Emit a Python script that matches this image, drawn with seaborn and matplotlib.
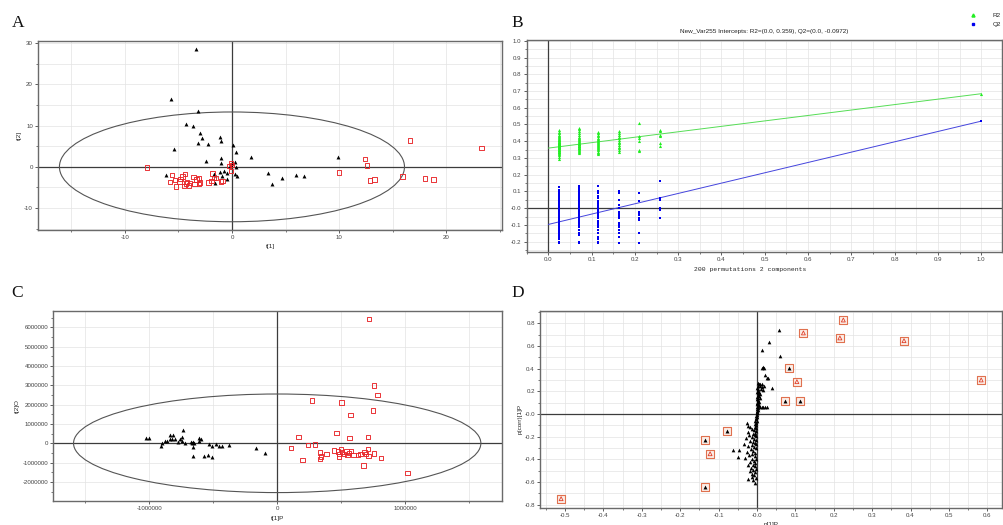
import numpy as np
import pandas as pd
import matplotlib
matplotlib.use("Agg")
import matplotlib.pyplot as plt
import seaborn as sns
from matplotlib.patches import Ellipse
from matplotlib.ticker import MultipleLocator, FuncFormatter
from matplotlib.lines import Line2D

# ---------------- data ----------------
# Panel A (score plot t[1] vs t[2])
a_black_x = [-3.4, -5.7, -3.2, -4.3, -3.6, -3.0, -2.8, -3.2, -2.2, -1.1, -1.0, -5.4, 0.1, 0.4, -1.0, -1.0, -2.4, 0.3, 0.0, -0.1,
             0.4, -6.2, -1.6, -1.1, -0.7, -0.5, -0.9, -1.6, -0.5, 0.3, 0.5, 1.8, 3.4, 3.7, 4.7, 6.0, 6.7, 9.9, -1.7, -0.2]
a_black_y = [28.5, 16.5, 13.5, 10.4, 9.8, 8.3, 6.9, 5.7, 5.6, 7.2, 6.2, 4.4, 5.3, 3.5, 2.1, 1.0, 1.4, 1.1, 0.9, 0.5,
             0.0, -1.9, -1.9, -1.3, -0.9, -1.5, -2.1, -3.8, -3.0, -1.8, -2.3, 2.3, -1.5, -4.2, -2.8, -1.9, -2.2, 2.5, -1.7, 0.3]
a_red_x = [-7.9, -5.6, -5.8, -5.3, -5.2, -4.9, -4.8, -4.6, -4.4, -4.5, -4.3, -4.2, -3.9, -3.6, -3.5, -3.3, -3.1, -3.1, -3.0, -4.0,
           -2.2, -1.8, -1.7, -1.5, -1.9, -1.0, -0.9, -0.1, -0.25, -0.1, 0.0, 12.4, 12.6, 10.0, 12.9, 13.3, 15.9, 16.6, 18.0, 18.8, 23.3]
a_red_y = [-0.2, -2.0, -3.6, -3.2, -4.8, -3.5, -3.0, -2.3, -1.7, -4.6, -4.0, -3.6, -3.9, -2.5, -4.1, -3.1, -2.8, -4.1, -3.8, -4.5,
           -3.8, -1.6, -2.7, -2.7, -3.4, -3.5, -3.4, -1.0, 0.2, 0.9, 0.5, 1.9, 0.3, -1.4, -3.3, -3.1, -2.3, 6.4, -2.8, -3.1, 4.5]
a_ellipse = (16.1, 13.3)

# Panel B (permutation test)
perm_x = [0.025, 0.07, 0.115, 0.163, 0.21, 0.257]
r2_c1 = [0.293, 0.305, 0.315, 0.322, 0.328, 0.333, 0.338, 0.342, 0.346, 0.350, 0.354, 0.357, 0.360, 0.363, 0.366, 0.369, 0.372, 0.375,
         0.378, 0.381, 0.384, 0.387, 0.390, 0.393, 0.397, 0.401, 0.405, 0.409, 0.413, 0.418, 0.423, 0.430, 0.438, 0.447, 0.458, 0.470]
r2_c2 = [0.330, 0.336, 0.342, 0.348, 0.353, 0.358, 0.362, 0.366, 0.370, 0.374, 0.378, 0.382, 0.386, 0.390, 0.395, 0.400, 0.406, 0.412,
         0.420, 0.428, 0.438, 0.448, 0.460, 0.472, 0.480]
r2_c3 = [0.322, 0.330, 0.338, 0.345, 0.352, 0.358, 0.364, 0.370, 0.376, 0.382, 0.388, 0.394, 0.400, 0.407, 0.414, 0.422, 0.430, 0.440,
         0.450, 0.458]
r2_c4 = [0.335, 0.348, 0.358, 0.368, 0.378, 0.388, 0.398, 0.408, 0.418, 0.428, 0.440, 0.452, 0.460]
r2_c5 = [0.340, 0.350, 0.400, 0.420, 0.430, 0.510]
r2_c6 = [0.370, 0.390, 0.430, 0.440, 0.460, 0.470]
q2_c1 = [-0.210, -0.205, -0.185, -0.175, -0.165, -0.155, -0.145, -0.135, -0.125, -0.118, -0.110, -0.102, -0.095, -0.088, -0.080,
         -0.073, -0.066, -0.059, -0.052, -0.045, -0.038, -0.031, -0.024, -0.017, -0.010, -0.003, 0.004, 0.011, 0.018, 0.025, 0.032,
         0.040, 0.048, 0.056, 0.064, 0.072, 0.080, 0.088, 0.095, 0.110, 0.125]
q2_c2 = [-0.210, -0.200, -0.160, -0.150, -0.130, -0.110, -0.100, -0.090, -0.080, -0.070, -0.060, -0.050, -0.040, -0.030, -0.020,
         -0.010, 0.000, 0.010, 0.020, 0.030, 0.040, 0.050, 0.060, 0.070, 0.080, 0.090, 0.100, 0.110, 0.120, 0.130]
q2_c3 = [-0.210, -0.200, -0.185, -0.170, -0.150, -0.130, -0.115, -0.100, -0.090, -0.075, -0.060, -0.050, -0.040, -0.030, -0.020,
         -0.010, 0.000, 0.010, 0.020, 0.030, 0.045, 0.060, 0.075, 0.090, 0.100, 0.135]
q2_c4 = [-0.210, -0.170, -0.150, -0.130, -0.110, -0.100, -0.090, -0.060, -0.050, -0.040, -0.030, -0.020, 0.000, 0.020, 0.050, 0.090,
         0.095, 0.100]
q2_c5 = [-0.210, -0.150, -0.070, -0.060, -0.040, -0.030, -0.020, 0.040, 0.090]
q2_c6 = [-0.060, -0.010, 0.000, 0.050, 0.060, 0.160]
r2_full = 0.684
q2_full = 0.520
r2_intercept = 0.359
q2_intercept = -0.0972
b_title = "New_Var255 Intercepts: R2=(0.0, 0.359), Q2=(0.0, -0.0972)"
b_xlabel = "200 permutations 2 components"

# Panel C (OPLS-DA score plot)
c_black_x = [-1028000, -1000000, -911000, -903000, -877000, -859000, -838000, -810000, -838000, -820000, -800000, -773000, -760000,
             -747000, -740000, -734000, -720000, -674000, -660000, -668000, -656000, -650000, -661000, -609000, -595000, -609000,
             -573000, -539000, -508000, -531000, -508000, -479000, -455000, -430000, -375000, -166000, -94000]
c_black_y = [260000, 260000, -140000, 0, 120000, 120000, 430000, 430000, 210000, 230000, 210000, 80000, 210000, 310000, 100000,
             690000, 0, 80000, 60000, 20000, -170000, 30000, -660000, 260000, 230000, 120000, -660000, -610000, -690000, -50000,
             -140000, -40000, -140000, -140000, -100000, -260000, -500000]
c_red_x = [719000, 756000, 784000, 274000, 503000, 750000, 573000, 464000, 167000, 563000, 711000, 109000, 242000, 297000, 198000,
           336000, 341000, 336000, 386000, 445000, 477000, 482000, 484000, 500000, 505000, 542000, 550000, 578000, 597000, 630000,
           651000, 683000, 693000, 711000, 714000, 675000, 758000, 808000, 1016000, 520000, 560000]
c_red_y = [6420000, 3000000, 2490000, 2210000, 2120000, 1690000, 1450000, 520000, 330000, 260000, 330000, -230000, -100000, -70000,
           -880000, -470000, -690000, -800000, -540000, -380000, -430000, -550000, -690000, -280000, -450000, -430000, -620000,
           -410000, -590000, -620000, -550000, -450000, -550000, -300000, -660000, -1140000, -520000, -760000, -1540000, -560000, -500000]
c_ellipse = (1590000, 2550000)

# Panel D (S-plot)
d_x = [0.058, 0.032, 0.014, 0.060, 0.016, 0.018, 0.014, 0.021, 0.025, 0.029, 0.038, 0.002, 0.005, 0.009, 0.013, 0.003, 0.008, 0.012,
       0.018, 0.001, 0.004, 0.010, 0.015, 0.002, 0.006, 0.001, 0.004, 0.008, 0.002, 0.005, 0.001, 0.003, 0.007, 0.001, 0.004, 0.002,
       0.006, 0.001, 0.003, 0.001, 0.005, 0.002, 0.008, 0.012, 0.017, 0.022, 0.026, 0.001, 0.003, 0.001, 0.002, 0.000, 0.001, 0.000,
       0.001,
       -0.001, -0.002, -0.001, -0.003, -0.002, -0.004, -0.001, -0.027, -0.003, -0.005, -0.002, -0.022, -0.017, -0.006, -0.003, -0.012,
       -0.008, -0.002, -0.024, -0.004, -0.010, -0.020, -0.006, -0.002, -0.014, -0.028, -0.008, -0.003, -0.018, -0.011, -0.005, -0.033,
       -0.002, -0.013, -0.022, -0.007, -0.003, -0.046, -0.062, -0.016, -0.009, -0.026, -0.004, -0.012, -0.049, -0.020, -0.006, -0.030,
       -0.002, -0.014, -0.008, -0.018, -0.004, -0.011, -0.024, -0.006, -0.015, -0.003, -0.010, -0.019, -0.005, -0.012, -0.007, -0.014,
       -0.003, -0.023, -0.009, -0.005]
d_y = [0.737, 0.634, 0.567, 0.514, 0.412, 0.402, 0.405, 0.341, 0.318, 0.313, 0.226, 0.270, 0.268, 0.265, 0.262, 0.250, 0.246, 0.240,
       0.243, 0.230, 0.222, 0.218, 0.212, 0.205, 0.198, 0.190, 0.182, 0.176, 0.168, 0.160, 0.152, 0.145, 0.138, 0.130, 0.122, 0.115,
       0.108, 0.100, 0.092, 0.085, 0.078, 0.072, 0.066, 0.064, 0.065, 0.063, 0.064, 0.058, 0.050, 0.042, 0.035, 0.028, 0.020, 0.012,
       0.005,
       -0.008, -0.018, -0.028, -0.038, -0.048, -0.058, -0.066, -0.082, -0.075, -0.088, -0.095, -0.105, -0.115, -0.112, -0.122, -0.132,
       -0.140, -0.148, -0.160, -0.165, -0.172, -0.185, -0.188, -0.195, -0.205, -0.212, -0.218, -0.228, -0.235, -0.245, -0.252, -0.262,
       -0.268, -0.275, -0.285, -0.292, -0.300, -0.317, -0.317, -0.310, -0.325, -0.335, -0.340, -0.350, -0.376, -0.362, -0.372, -0.385,
       -0.392, -0.400, -0.412, -0.425, -0.432, -0.445, -0.452, -0.462, -0.472, -0.482, -0.492, -0.505, -0.515, -0.528, -0.540, -0.552,
       -0.560, -0.575, -0.582, -0.610]
d_sel_x = [-0.51, -0.135, -0.122, -0.077, -0.136, 0.225, 0.121, 0.216, 0.383, 0.083, 0.104, 0.074, 0.112, 0.584]
d_sel_y = [-0.746, -0.232, -0.35, -0.15, -0.646, 0.828, 0.714, 0.67, 0.646, 0.408, 0.285, 0.117, 0.117, 0.30]
d_sel_kind = ['red', 'black', 'red', 'black', 'black', 'red', 'red', 'red', 'red', 'black', 'red', 'black', 'black', 'red']

# ---------------- style ----------------
sns.set_style("white")
plt.rcParams['font.family'] = ['Liberation Sans', 'DejaVu Sans']
TICK_FS = 4.4
LAB_FS = 4.6
SPINE_C = '#6a6a6a'
GRID_C = '#e3e3e3'
ZERO_C = '#3c3c3c'
RED = '#e8262a'

fig = plt.figure(figsize=(10.04, 5.25), dpi=100)
W, H = 1004, 525


def add_ax(l, t, r, b):
    return fig.add_axes([l / W, 1 - b / H, (r - l) / W, (b - t) / H])


def style(ax, xlim, ylim, xmaj, xmin, ymaj, ymin, xfmt, yfmt, ygrid_minor=True):
    ax.set_xlim(*xlim)
    ax.set_ylim(*ylim)
    ax.xaxis.set_major_locator(MultipleLocator(xmaj))
    ax.xaxis.set_minor_locator(MultipleLocator(xmin))
    ax.yaxis.set_major_locator(MultipleLocator(ymaj))
    ax.yaxis.set_minor_locator(MultipleLocator(ymin))
    ax.xaxis.set_major_formatter(FuncFormatter(xfmt))
    ax.yaxis.set_major_formatter(FuncFormatter(yfmt))
    ax.tick_params(which='major', direction='out', length=2.2, width=0.6, colors='#444444',
                   labelsize=TICK_FS, pad=1.5, bottom=True, left=True)
    ax.tick_params(which='minor', direction='out', length=1.4, width=0.5, colors='#444444',
                   bottom=True, left=True)
    ax.grid(True, which='both', axis='x', color=GRID_C, lw=0.5)
    ax.grid(True, which='both' if ygrid_minor else 'major', axis='y', color=GRID_C, lw=0.5)
    ax.set_axisbelow(True)
    for s in ax.spines.values():
        s.set_color(SPINE_C)
        s.set_linewidth(1.0)
    ax.axhline(0, color=ZERO_C, lw=0.9, zorder=2)
    ax.axvline(0, color=ZERO_C, lw=0.9, zorder=2)


def f_int(v, p):
    return '{:.0f}'.format(v)


def f_1(v, p):
    return '0.0' if abs(v) < 1e-9 else '{:.1f}'.format(v)


def f_1neg(v, p):
    return '-0.0' if abs(v) < 1e-9 else '{:.1f}'.format(v)


def open_markers(ax, color, lw=0.65):
    coll = ax.collections[-1]
    coll.set_facecolor('none')
    coll.set_edgecolor(color)
    coll.set_linewidth(lw)


# ---------------- Panel A ----------------
axA = add_ax(38, 41, 502, 230)
style(axA, (-18.1, 25.2), (-15.3, 30.5), 10, 5, 10, 5, f_int, f_int)
axA.add_patch(Ellipse((0, 0), 2 * a_ellipse[0], 2 * a_ellipse[1], fill=False, ec='#555555', lw=0.8, zorder=2))
sns.scatterplot(x=a_black_x, y=a_black_y, ax=axA, marker='^', color='black', s=8, linewidth=0, zorder=3)
sns.scatterplot(x=a_red_x, y=a_red_y, ax=axA, marker='s', color=RED, s=10, zorder=3)
open_markers(axA, RED)
axA.set_xlabel('t[1]', fontsize=LAB_FS)
axA.set_ylabel('t[2]', fontsize=LAB_FS)
axA.xaxis.set_label_coords(0.5, -0.075)
axA.yaxis.set_label_coords(-0.034, 0.5)

# ---------------- Panel B ----------------
axB = add_ax(526.7, 40, 1002, 252)
style(axB, (-0.05, 1.048), (-0.262, 1.005), 0.1, 0.05, 0.1, 0.05, f_1, f_1neg)
cols_r2 = [r2_c1, r2_c2, r2_c3, r2_c4, r2_c5, r2_c6]
cols_q2 = [q2_c1, q2_c2, q2_c3, q2_c4, q2_c5, q2_c6]
df_r2 = pd.DataFrame({'x': np.concatenate([[px] * len(c) for px, c in zip(perm_x, cols_r2)] + [[1.0]]),
                      'y': np.concatenate(cols_r2 + [[r2_full]])})
df_q2 = pd.DataFrame({'x': np.concatenate([[px] * len(c) for px, c in zip(perm_x, cols_q2)] + [[1.0]]),
                      'y': np.concatenate(cols_q2 + [[q2_full]])})
sns.lineplot(x=[0.0, 1.0], y=[r2_intercept, r2_full], ax=axB, color='#55dd55', lw=0.7, zorder=3)
sns.lineplot(x=[0.0, 1.0], y=[q2_intercept, q2_full], ax=axB, color='#4444dd', lw=0.7, zorder=3)
sns.scatterplot(data=df_r2, x='x', y='y', ax=axB, marker='^', color='#22ee22', s=5, linewidth=0, zorder=4)
sns.scatterplot(data=df_q2, x='x', y='y', ax=axB, marker='s', color='#0000ee', s=4, linewidth=0, zorder=4)
axB.set_ylabel('')
axB.set_xlabel(b_xlabel, fontsize=LAB_FS, family=['Liberation Mono', 'DejaVu Sans Mono'])
axB.xaxis.set_label_coords(0.47, -0.07)
axB.set_title(b_title, fontsize=4.6, pad=5, color='#222222')
handles = [Line2D([], [], marker='^', ls='', color='#22ee22', markersize=2.2),
           Line2D([], [], marker='s', ls='', color='#0000ee', markersize=2.0)]
axB.legend(handles, ['R2', 'Q2'], loc='upper right', bbox_to_anchor=(1001 / W, 1 - 13 / H),
           bbox_transform=fig.transFigure, frameon=False, fontsize=4.6, handlelength=1.0,
           handletextpad=2.6, labelspacing=0.45, borderpad=0, borderaxespad=0)

# ---------------- Panel C ----------------
axC = add_ax(53.3, 310.7, 502, 500.7)
style(axC, (-1748000, 1755000), (-2970000, 6860000), 1000000, 500000, 1000000, 500000, f_int, f_int, ygrid_minor=False)
axC.add_patch(Ellipse((0, 0), 2 * c_ellipse[0], 2 * c_ellipse[1], fill=False, ec='#555555', lw=0.8, zorder=2))
sns.scatterplot(x=c_black_x, y=c_black_y, ax=axC, marker='^', color='black', s=8, linewidth=0, zorder=3)
sns.scatterplot(x=c_red_x, y=c_red_y, ax=axC, marker='s', color=RED, s=10, zorder=3)
open_markers(axC, RED)
axC.set_xlabel('t[1]P', fontsize=LAB_FS)
axC.set_ylabel('t[2]O', fontsize=LAB_FS)
axC.xaxis.set_label_coords(0.5, -0.08)
axC.yaxis.set_label_coords(-0.074, 0.5)

# ---------------- Panel D ----------------
axD = add_ax(540, 310.7, 1002.3, 508)
style(axD, (-0.565, 0.639), (-0.828, 0.91), 0.1, 0.05, 0.2, 0.1, f_1neg, f_1neg)
sns.scatterplot(x=d_x, y=d_y, ax=axD, marker='^', color='black', s=7, linewidth=0, zorder=3)
sns.scatterplot(x=d_sel_x, y=d_sel_y, ax=axD, marker='s', color='#fbeee8', s=40, edgecolor='#e0714f',
                linewidth=0.8, zorder=4)
sel_red_x = [x for x, k in zip(d_sel_x, d_sel_kind) if k == 'red']
sel_red_y = [y for y, k in zip(d_sel_y, d_sel_kind) if k == 'red']
sel_blk_x = [x for x, k in zip(d_sel_x, d_sel_kind) if k == 'black']
sel_blk_y = [y for y, k in zip(d_sel_y, d_sel_kind) if k == 'black']
sns.scatterplot(x=sel_blk_x, y=sel_blk_y, ax=axD, marker='^', color='black', s=8, linewidth=0, zorder=5)
sns.scatterplot(x=sel_red_x, y=sel_red_y, ax=axD, marker='^', color='#e0402a', s=8, zorder=5)
open_markers(axD, '#e0402a', lw=0.6)
axD.set_xlabel('p[1]P', fontsize=LAB_FS)
axD.set_ylabel('p(corr)[1]P', fontsize=LAB_FS)
axD.xaxis.set_label_coords(0.5, -0.07)
axD.yaxis.set_label_coords(-0.037, 0.45)

# ---------------- panel letters ----------------
for letter, (px, py) in {'A': (11.5, 26.7), 'B': (511.5, 26.7), 'C': (11.5, 296.7), 'D': (511.5, 296.7)}.items():
    fig.text(px / W, 1 - py / H, letter, fontsize=12.5, family=['Liberation Serif', 'DejaVu Serif'],
             ha='left', va='baseline', color='#111111')

fig.savefig('out.png', dpi=100)
